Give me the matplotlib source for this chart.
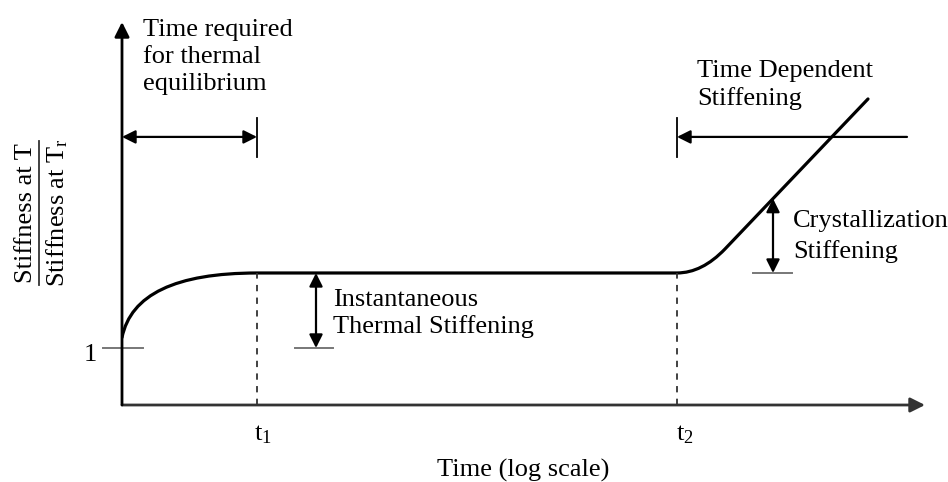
import numpy as np
import matplotlib
matplotlib.use("Agg")
import matplotlib.pyplot as plt
from matplotlib.path import Path
from matplotlib.patches import PathPatch

plt.rcParams["font.family"] = ["Liberation Serif", "DejaVu Serif"]
plt.rcParams["mathtext.fontset"] = "custom"
plt.rcParams["mathtext.rm"] = "Liberation Serif"
plt.rcParams["mathtext.it"] = "Liberation Serif:italic"

# schematic stiffness ratio vs. log time
t1 = 1.35
t2 = 5.55
base_ratio = 1.0
plateau_ratio = 1.5

# curve vertices: thermal rise (quadratic), plateau, knee, crystallization ramp
curve_x = [0.0, 0.13, t1, t2, 5.80, 6.03, 7.46]
curve_y = [1.07, plateau_ratio, plateau_ratio, plateau_ratio, plateau_ratio, 1.66, 2.66]
curve_codes = [Path.MOVETO, Path.CURVE3, Path.CURVE3, Path.LINETO,
               Path.CURVE3, Path.CURVE3, Path.LINETO]

x_max = 8.03
y_min, y_max = 0.62, 3.173
fs = 19

fig = plt.figure(figsize=(9.48, 4.82), dpi=100)
ax = fig.add_axes([122 / 948, 77 / 482, (925 - 122) / 948, (405 - 22) / 482])
ax.set_xlim(0, x_max)
ax.set_ylim(y_min, y_max)
ax.axis("off")

# axes with arrow heads
axis_kw = dict(arrowstyle="-|>", mutation_scale=22, lw=2.0, color="#333333",
               shrinkA=0, shrinkB=0)
ax.annotate("", xy=(x_max, y_min), xytext=(0, y_min),
            arrowprops=axis_kw, annotation_clip=False)
ax.annotate("", xy=(0, y_max), xytext=(0, y_min),
            arrowprops=dict(axis_kw, color="black"), annotation_clip=False)

# main curve
path = Path(np.column_stack([curve_x, curve_y]), curve_codes)
ax.add_patch(PathPatch(path, fill=False, lw=2.3, color="black",
                       capstyle="round", joinstyle="round"))

# t1 / t2 dashed guides
for t in (t1, t2):
    ax.plot([t, t], [y_min, plateau_ratio], color="#333333", lw=1.3,
            ls=(0, (3.5, 3.5)))

# level "1" tick
ax.plot([-0.19, 0.21], [base_ratio, base_ratio], color="#777777", lw=1.4,
        clip_on=False)
ax.text(-0.32, 0.953, "1", fontsize=fs, ha="center", va="center")

dbl = dict(arrowstyle="<|-|>", mutation_scale=20, lw=1.6, color="black",
           shrinkA=0, shrinkB=0)
one = dict(dbl, arrowstyle="-|>")

# thermal equilibrium span
span_y = 2.407
ax.annotate("", xy=(t1, span_y), xytext=(0, span_y), arrowprops=dbl)
ax.plot([t1, t1], [2.273, 2.533], color="black", lw=1.3)
ax.text(0.21, 3.195, "Time required\nfor thermal\nequilibrium", fontsize=fs,
        ha="left", va="top", linespacing=1.3)

# time dependent stiffening span
ax.annotate("", xy=(t2, span_y), xytext=(7.85, span_y), arrowprops=one)
ax.plot([t2, t2], [2.273, 2.533], color="black", lw=1.3)
ax.text(5.75, 2.92, "Time Dependent\nStiffening", fontsize=fs,
        ha="left", va="top", linespacing=1.3)

# instantaneous thermal stiffening
xi = 1.94
ax.annotate("", xy=(xi, plateau_ratio), xytext=(xi, base_ratio), arrowprops=dbl)
ax.plot([1.73, 2.11], [base_ratio, base_ratio], color="#777777", lw=1.4)
ax.text(2.11, 1.393, "Instantaneous\nThermal Stiffening", fontsize=fs,
        ha="left", va="top", linespacing=1.2)

# crystallization stiffening, top taken from the ramp
xc = 6.51
yc = np.interp(xc, curve_x[5:], curve_y[5:])
ax.annotate("", xy=(xc, yc), xytext=(xc, plateau_ratio), arrowprops=dbl)
ax.plot([6.31, 6.70], [plateau_ratio, plateau_ratio], color="#777777", lw=1.4)
ax.text(6.71, 1.92, "Crystallization\nStiffening", fontsize=fs,
        ha="left", va="top", linespacing=1.45)

# axis labels
ax.text(t1 + 0.06, 0.42, r"$\mathrm{t}_1$", fontsize=fs, ha="center", va="center")
ax.text(t2 + 0.08, 0.42, r"$\mathrm{t}_2$", fontsize=fs, ha="center", va="center")
ax.text(4.01, 0.187, "Time (log scale)", fontsize=fs, ha="center", va="center")

# y label as a stacked ratio
ax.text(-0.96, 1.9, "Stiffness at T", fontsize=fs, rotation=90,
        ha="center", va="center")
ax.text(-0.645, 1.9, r"Stiffness at T$_\mathrm{r}$", fontsize=fs, rotation=90,
        ha="center", va="center")
ax.plot([-0.83, -0.83], [1.42, 2.38], color="#333333", lw=1.3, clip_on=False)

fig.savefig("out.png", dpi=100)
